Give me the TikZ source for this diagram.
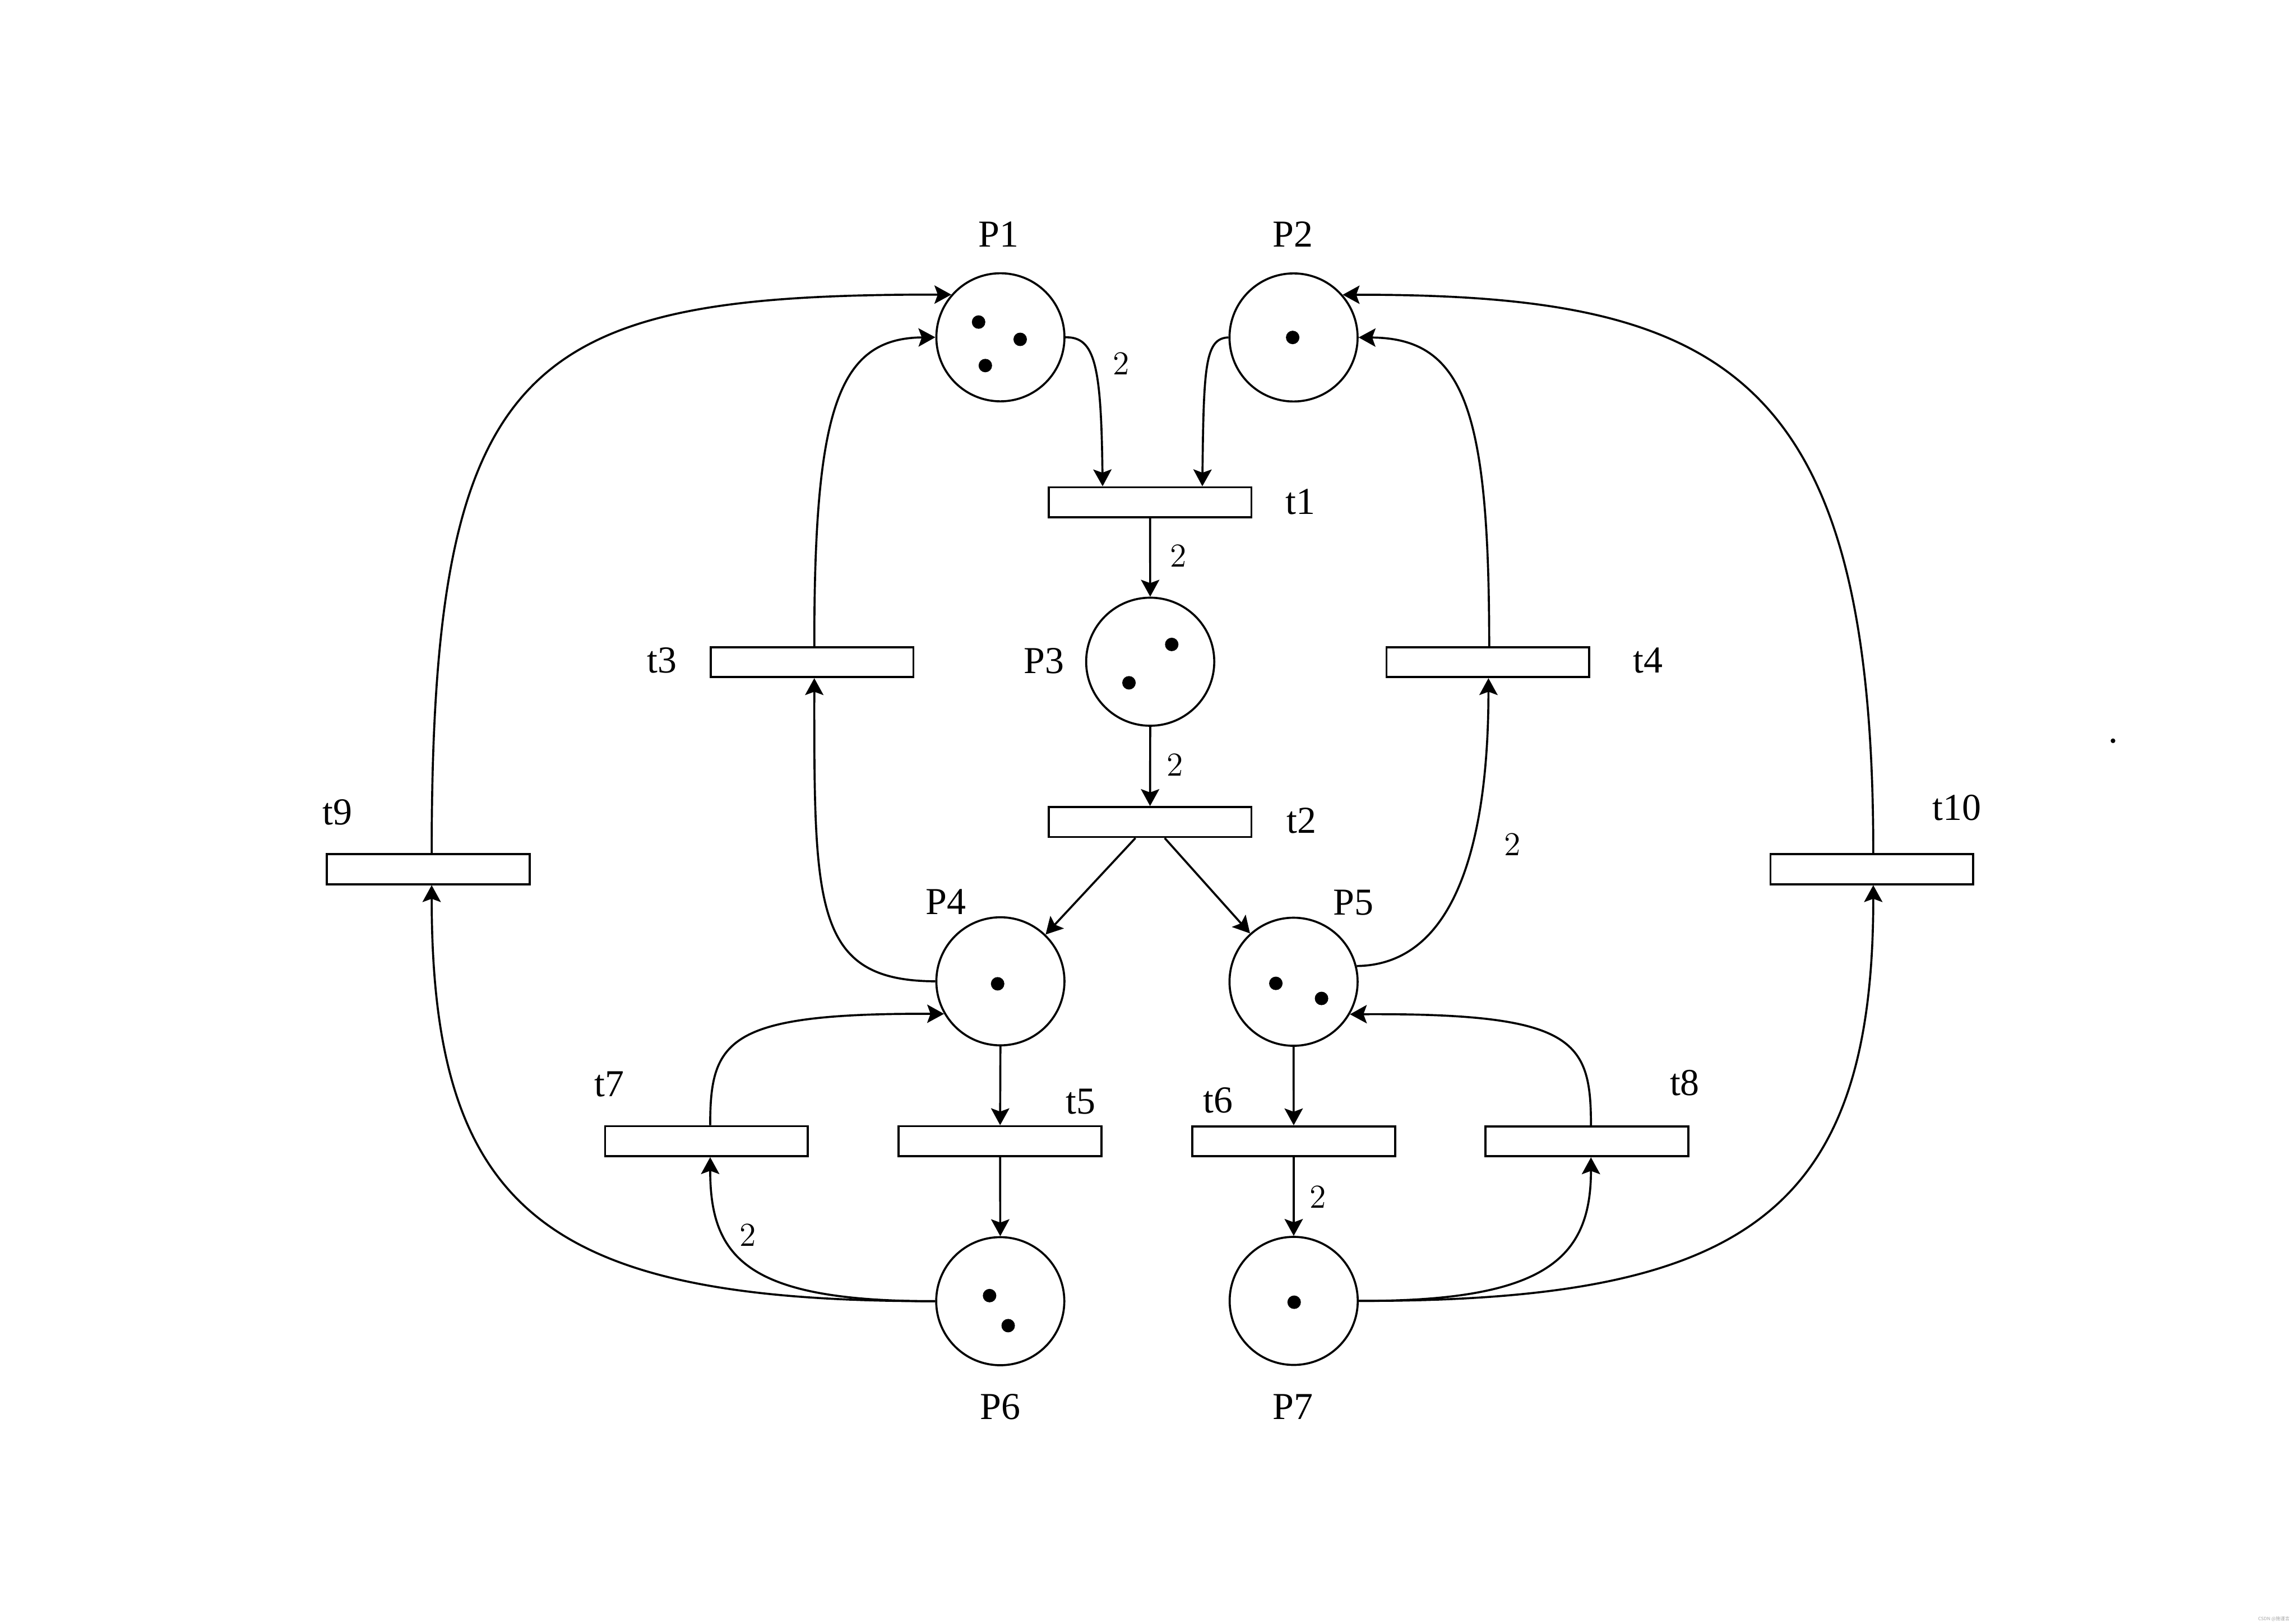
\documentclass[tikz,border=0pt]{standalone}
\usepackage{fontspec}
\newfontfamily\tnr{Liberation Serif}
\newfontfamily\cjkfont{Noto Sans CJK SC}
\usetikzlibrary{arrows.meta,calc}
\begin{document}
\begin{tikzpicture}[x=0.02cm,y=-0.02cm,
  place/.style={circle,draw,line width=0.8pt,minimum size=1.75cm,inner sep=0pt},
  trans/.style={rectangle,draw,line width=0.8pt,minimum width=2.77cm,minimum height=0.41cm,inner sep=0pt},
  lab/.style={font=\tnr\fontsize{14.8}{17}\selectfont,inner sep=0pt,anchor=base},
  wlab/.style={font=\fontsize{13}{15}\selectfont,inner sep=0pt,anchor=base},
  arc/.style={line width=0.8pt,-{Stealth[length=2.3mm,width=2.5mm,inset=0.45mm]}},
  tok/.style={fill=black}]
\fill[white] (0,0) rectangle (1568,1108.6);
\useasboundingbox (0,0) rectangle (1568,1108.6);
% places
\node[place] (P1) at (683.2,230.4) {};
\node[place] (P2) at (883.4,230.5) {};
\node[place] (P3) at (785.5,452) {};
\node[place] (P4) at (683.2,670.3) {};
\node[place] (P5) at (883.4,670.6) {};
\node[place] (P6) at (683.1,888.8) {};
\node[place] (P7) at (883.5,888.6) {};
% transitions
\node[trans] (t1) at (785.4,343.1) {};
\node[trans] (t2) at (785.4,561.5) {};
\node[trans] (t3) at (554.6,452.3) {};
\node[trans] (t4) at (1016.1,452.3) {};
\node[trans] (t5) at (683,779.5) {};
\node[trans] (t6) at (883.5,779.6) {};
\node[trans] (t7) at (482.5,779.5) {};
\node[trans] (t8) at (1083.8,779.6) {};
\node[trans] (t9) at (292.5,593.7) {};
\node[trans] (t10) at (1278.3,593.7) {};
% tokens
\fill[tok] (668.3,220) circle[radius=0.092cm];
\fill[tok] (696.7,231.8) circle[radius=0.092cm];
\fill[tok] (672.9,249.7) circle[radius=0.092cm];
\fill[tok] (882.8,230.5) circle[radius=0.092cm];
\fill[tok] (800.2,440.2) circle[radius=0.092cm];
\fill[tok] (771,466.4) circle[radius=0.092cm];
\fill[tok] (681.3,672) circle[radius=0.092cm];
\fill[tok] (871.3,671.7) circle[radius=0.092cm];
\fill[tok] (902.5,682) circle[radius=0.092cm];
\fill[tok] (675.8,885) circle[radius=0.092cm];
\fill[tok] (688.5,905.5) circle[radius=0.092cm];
\fill[tok] (883.8,889.5) circle[radius=0.092cm];
\fill[tok] (1443,506) circle[radius=0.032cm];
% labels
\node[lab] (lP1) at (682,168.5) {P1};
\node[lab] (lP2) at (883,168.5) {P2};
\node[lab] (lP3) at (713,459.9) {P3};
\node[lab] (lP4) at (646,624.5) {P4};
\node[lab] (lP5) at (924.4,625) {P5};
\node[lab] (lP6) at (683,969.5) {P6};
\node[lab] (lP7) at (883,969.5) {P7};
\node[lab] (lt1) at (888,351.3) {t1};
\node[lab] (lt2) at (889,568.9) {t2};
\node[lab] (lt3) at (452,459.5) {t3};
\node[lab] (lt4) at (1125.6,459.5) {t4};
\node[lab] (lt5) at (738,760.7) {t5};
\node[lab] (lt6) at (831.8,760.2) {t6};
\node[lab] (lt7) at (416,749) {t7};
\node[lab] (lt8) at (1150.5,748.2) {t8};
\node[lab] (lt9) at (230.3,563.4) {t9};
\node[lab] (lt10) at (1336.4,560.3) {t10};
% weights
\node[wlab] (w1) at (765.5,256) {2};
\node[wlab] (w2) at (804.8,387.3) {2};
\node[wlab] (w3) at (802.4,530) {2};
\node[wlab] (w4) at (1032.7,584.4) {2};
\node[wlab] (w5) at (900.2,825.2) {2};
\node[wlab] (w6) at (510.6,851) {2};
% arcs
\draw[arc] (P1.east) .. controls (748,230) and (752,250) .. ($(t1.north)+(-32.4,0)$);
\draw[arc] (P2.west) .. controls (823,231) and (822,250) .. ($(t1.north)+(35.7,0)$);
\draw[arc] (t1.south) -- (P3.north);
\draw[arc] (P3.south) -- (t2.north);
\draw[arc] ($(t2.south)+(-10,0)$) -- (P4.46);
\draw[arc] ($(t2.south)+(10,0)$) -- (P5.132);
\draw[arc] (P4.west) .. controls (556,670) and (556,620) .. ($(t3.south)+(1.5,0)$);
\draw[arc] ($(t3.north)+(1.5,0)$) .. controls (556,280) and (572,231) .. (P1.west);
\draw[arc] (P5.14) .. controls (1000,659) and (1016.5,560) .. ($(t4.south)+(0.4,0)$);
\draw[arc] ($(t4.north)+(0.9,0)$) .. controls (1017,280) and (1000,231) .. (P2.east);
\draw[arc] (P4.south) -- (t5.north);
\draw[arc] (t5.south) -- (P6.north);
\draw[arc] (P5.south) -- (t6.north);
\draw[arc] (t6.south) -- (P7.north);
\draw[arc] (P6.west) .. controls (511,889) and (485,860) .. ($(t7.south)+(2.5,0)$);
\draw[arc] ($(t7.north)+(2.5,0)$) .. controls (485,710) and (497,692) .. (P4.210);
\draw[arc] (P7.east) .. controls (1055,889) and (1086.5,860) .. ($(t8.south)+(2.7,0)$);
\draw[arc] ($(t8.north)+(2.7,0)$) .. controls (1086.5,710) and (1075,692) .. (P5.-30);
\draw[arc] (P6.west) .. controls (376,889) and (294.8,830) .. ($(t9.south)+(2.3,0)$);
\draw[arc] ($(t9.north)+(2.3,0)$) .. controls (294.8,243) and (360,201) .. (P1.139);
\draw[arc] (P7.east) .. controls (1190,889) and (1279.3,830) .. ($(t10.south)+(1,0)$);
\draw[arc] ($(t10.north)+(1,0)$) .. controls (1279.3,253) and (1177,201) .. (P2.41);
% watermark
\node[anchor=base east,text=gray!70,font=\cjkfont\fontsize{1.8}{2}\selectfont,inner sep=0pt] (wm) at (1564,1107) {CSDN @施谨言};
\end{tikzpicture}
\end{document}
